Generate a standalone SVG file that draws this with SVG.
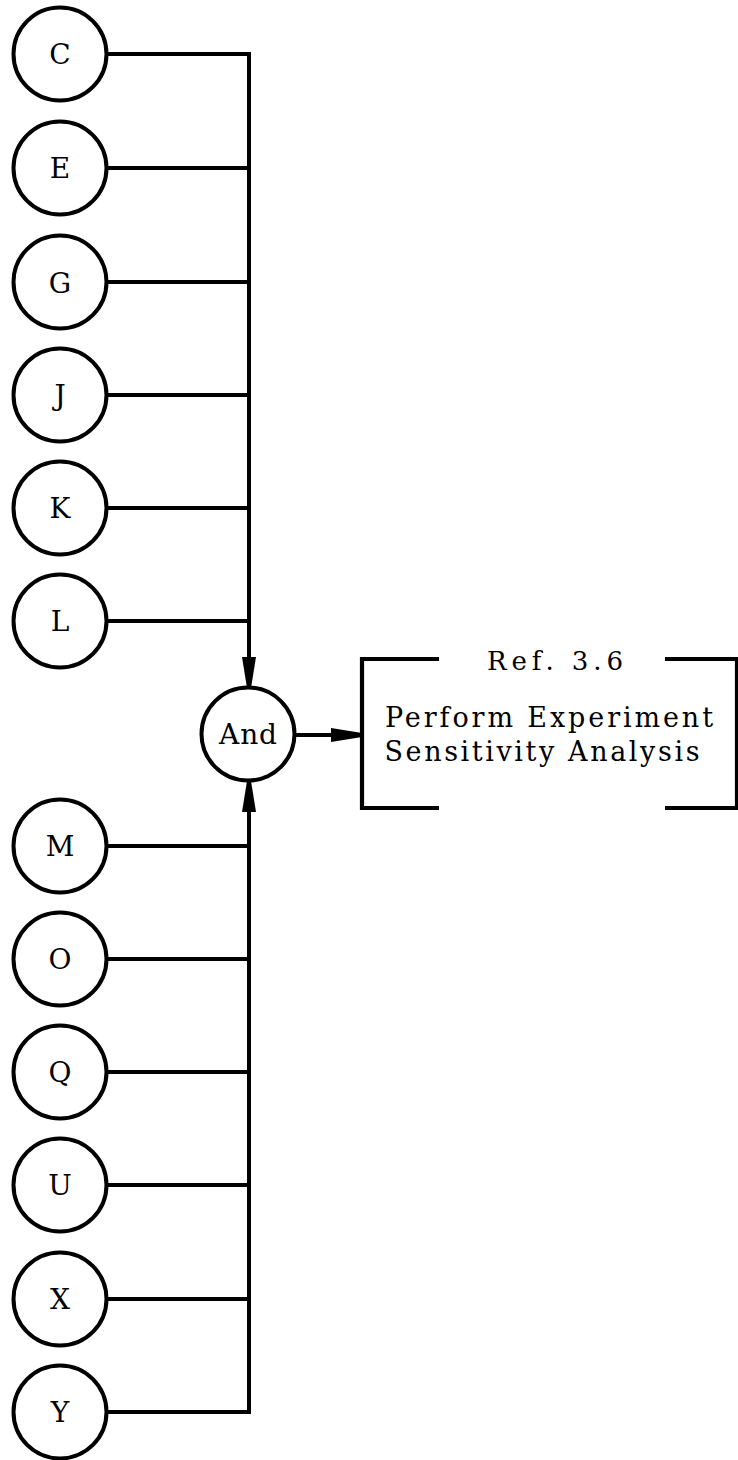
<svg xmlns="http://www.w3.org/2000/svg" width="738" height="1460" viewBox="0 0 738 1460">
<style>
.n circle{fill:#fff;stroke:#000;stroke-width:4}
.n text{font-family:"DejaVu Serif","Liberation Serif",serif;font-size:28px;text-anchor:middle;fill:#000}
.c line{stroke:#000;stroke-width:4;fill:none}
.b path{stroke:#000;stroke-width:4.2;fill:none}
.b text{font-family:"DejaVu Serif","Liberation Serif",serif;fill:#000;text-anchor:middle}
</style>
<defs>
<marker id="ah" markerUnits="userSpaceOnUse" markerWidth="32" markerHeight="18" refX="31" refY="9" orient="auto"><path d="M0,2 L31,7 L31,11 L0,16 Z" fill="#000"/></marker>
</defs>
<g class="c" id="connectors">
<line x1="107" y1="54" x2="249" y2="54"/>
<line x1="107" y1="168" x2="249" y2="168"/>
<line x1="107" y1="282" x2="249" y2="282"/>
<line x1="107" y1="395" x2="249" y2="395"/>
<line x1="107" y1="508" x2="249" y2="508"/>
<line x1="107" y1="621" x2="249" y2="621"/>
<line x1="249" y1="52" x2="249" y2="688" marker-end="url(#ah)"/>
<line x1="107" y1="846" x2="249" y2="846"/>
<line x1="107" y1="959" x2="249" y2="959"/>
<line x1="107" y1="1072" x2="249" y2="1072"/>
<line x1="107" y1="1185" x2="249" y2="1185"/>
<line x1="107" y1="1299" x2="249" y2="1299"/>
<line x1="107" y1="1412" x2="249" y2="1412"/>
<line x1="249" y1="1414" x2="249" y2="781" marker-end="url(#ah)"/>
<line x1="295" y1="735" x2="362" y2="735" marker-end="url(#ah)"/>
</g>
<g class="n" id="node-C"><circle cx="60" cy="54" r="46.5"/><text x="60" y="64">C</text></g>
<g class="n" id="node-E"><circle cx="60" cy="168" r="46.5"/><text x="60" y="178">E</text></g>
<g class="n" id="node-G"><circle cx="60" cy="282" r="46.5"/><text x="60" y="293">G</text></g>
<g class="n" id="node-J"><circle cx="60" cy="395" r="46.5"/><text x="60" y="405">J</text></g>
<g class="n" id="node-K"><circle cx="60" cy="508" r="46.5"/><text x="60" y="518">K</text></g>
<g class="n" id="node-L"><circle cx="60" cy="621" r="46.5"/><text x="60" y="631">L</text></g>
<g class="n" id="node-And"><circle cx="248" cy="734" r="46.5"/><text x="248" y="744" textLength="58" lengthAdjust="spacing">And</text></g>
<g class="n" id="node-M"><circle cx="60" cy="846" r="46.5"/><text x="60" y="856">M</text></g>
<g class="n" id="node-O"><circle cx="60" cy="959" r="46.5"/><text x="60" y="969">O</text></g>
<g class="n" id="node-Q"><circle cx="60" cy="1072" r="46.5"/><text x="60" y="1082">Q</text></g>
<g class="n" id="node-U"><circle cx="60" cy="1185" r="46.5"/><text x="60" y="1195">U</text></g>
<g class="n" id="node-X"><circle cx="60" cy="1299" r="46.5"/><text x="60" y="1309">X</text></g>
<g class="n" id="node-Y"><circle cx="60" cy="1412" r="46.5"/><text x="60" y="1422">Y</text></g>
<g class="b" id="node-ref36">
<path d="M439,659 H362 V808 H439"/>
<path d="M665,659 H737 V808 H665"/>
<text x="555" y="670" font-size="26" textLength="136" lengthAdjust="spacing">Ref. 3.6</text>
<text x="549" y="727" font-size="27" textLength="328" lengthAdjust="spacing">Perform Experiment</text>
<text x="542" y="761" font-size="27" textLength="315" lengthAdjust="spacing">Sensitivity Analysis</text>
</g>
</svg>
